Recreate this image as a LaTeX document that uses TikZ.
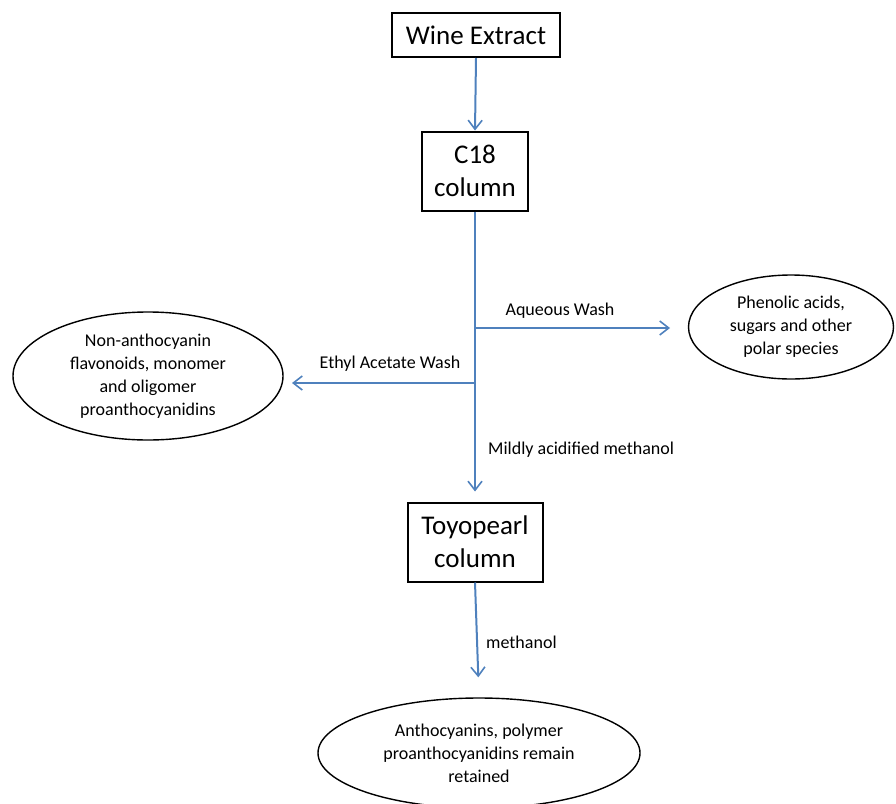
\documentclass[tikz,border=0pt]{standalone}
\usepackage{fontspec}
\setmainfont{Carlito}
\usetikzlibrary{arrows.meta,shapes.geometric}
\definecolor{flowblue}{RGB}{79,129,189}
\begin{document}
\begin{tikzpicture}[x=1pt,y=-1pt,
  boxnode/.style={draw=black,line width=2pt,inner sep=0pt,align=center,
    font=\fontsize{27}{33}\selectfont},
  ovalnode/.style={draw=black,line width=1.4pt,ellipse,inner sep=0pt,align=center,
    font=\fontsize{18}{23}\selectfont},
  lbl/.style={inner sep=0pt,font=\fontsize{18}{23}\selectfont},
  flow/.style={draw=flowblue,line width=2pt,-{Straight Barb[length=9pt,width=14pt,line width=1.6pt]}},
  flowline/.style={draw=flowblue,line width=2pt}]
\useasboundingbox (0,0) rectangle (896,803);
\node[boxnode,minimum width=168pt,minimum height=44pt] (wine) at (476,35) {Wine Extract};
\node[boxnode,minimum width=106pt,minimum height=79pt] (c18) at (475,171) {C18\\column};
\node[boxnode,minimum width=135pt,minimum height=79pt] (toyo) at (475,542) {Toyopearl\\column};
\node[ovalnode,minimum width=205pt,minimum height=104pt] (phen) at (791,327) {Phenolic acids,\\sugars and other\\polar species};
\node[ovalnode,minimum width=270pt,minimum height=128pt] (nonan) at (148,376) {Non-anthocyanin\\flavonoids, monomer\\and oligomer\\proanthocyanidins};
\node[ovalnode,minimum width=322pt,minimum height=110pt] (antho) at (479,753) {Anthocyanins, polymer\\proanthocyanidins remain\\retained};
\coordinate (aq) at (475,328);
\coordinate (aqend) at (670,328);
\coordinate (et) at (475,383);
\coordinate (etend) at (292,383);
\draw[flow] (wine.south) -- (c18.north);
\draw[flow,shorten >=10pt] (c18.south) -- (toyo.north);
\draw[flow] (aq) -- (aqend);
\draw[flow] (et) -- (etend);
\draw[flow,shorten >=20pt] (toyo.south) -- (antho.north);
\node[lbl] (aqlbl) at (560,311) {Aqueous Wash};
\node[lbl] (etlbl) at (390,364) {Ethyl Acetate Wash};
\node[lbl,anchor=west] (mildlbl) at (488,450) {Mildly acidified methanol};
\node[lbl,anchor=west] (methlbl) at (486,642) {methanol};
\end{tikzpicture}
\end{document}
